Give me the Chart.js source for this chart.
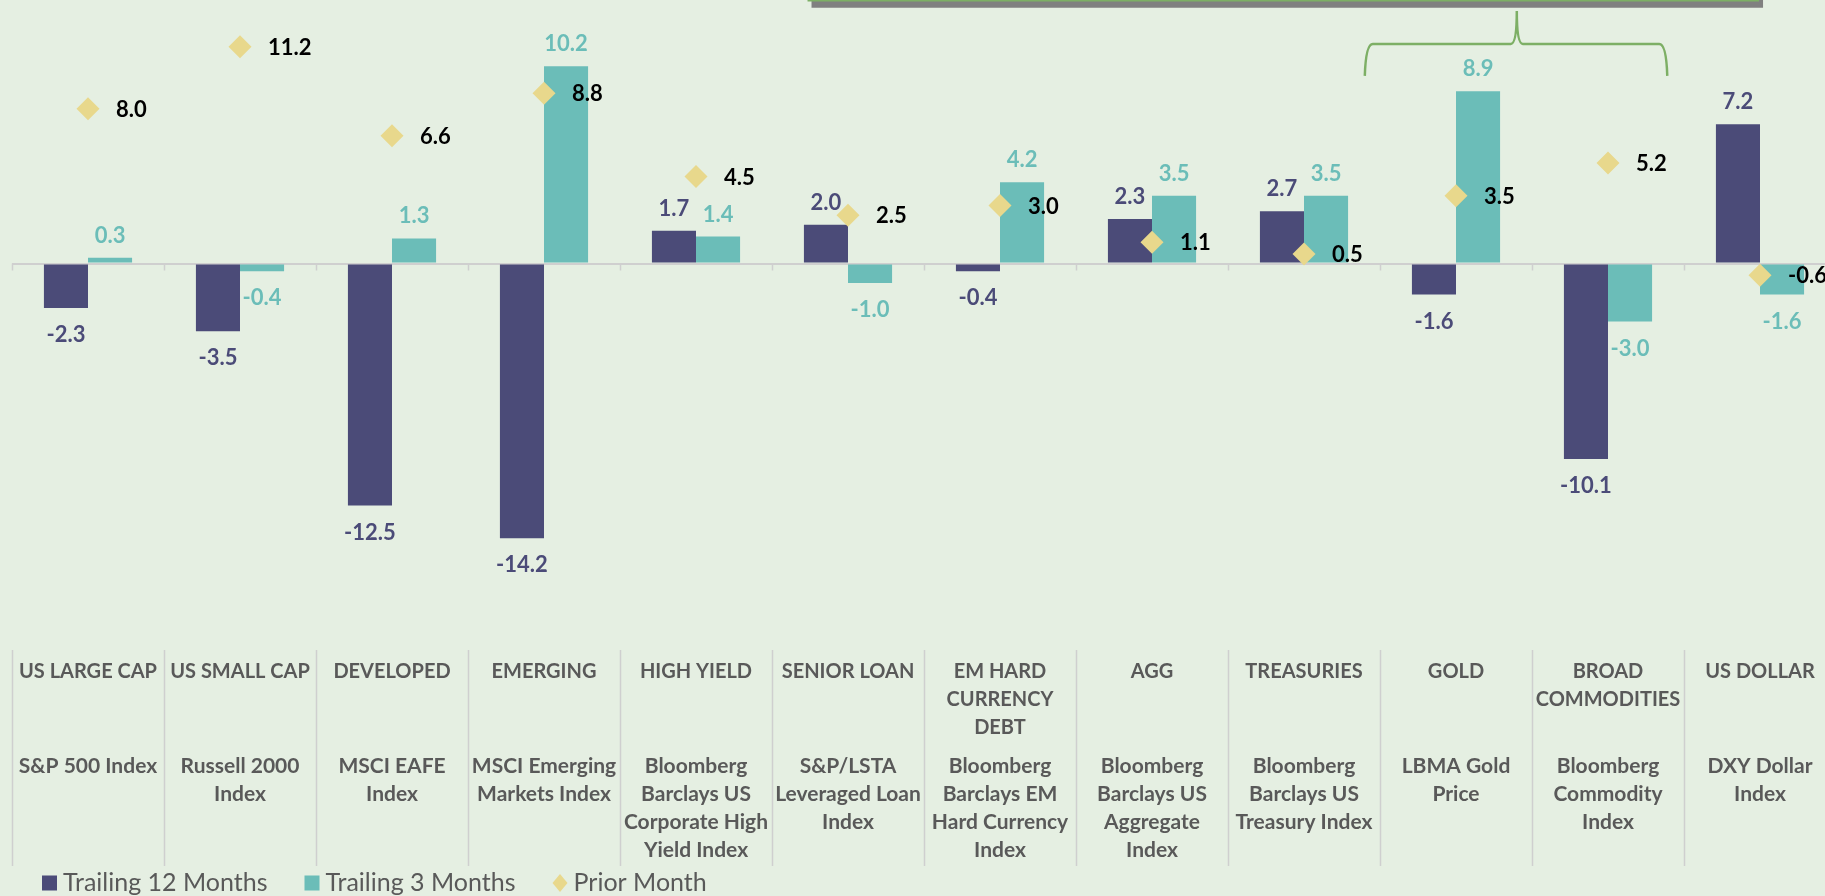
<!DOCTYPE html>
<html>
	<head>
		<meta charset="UTF-8" />
		<title>Asset Class Returns</title>
		<script src="https://cdn.jsdelivr.net/npm/chart.js@4.4.1/dist/chart.umd.min.js"></script>
		<style type="text/css">
			html, body {
				margin: 0;
				padding: 0;
				overflow: hidden;
				background: #E5EFE2;
			}
			.chartBox {
				width: 1840px;
				height: 896px;
			}
		</style>
	</head>
	<body>
		<div class="chartBox">
			<canvas id="myChart" width="1840" height="896"></canvas>
		</div>

		<script>
			// asset class (upper label row) and index name (lower label row)
			var groupLabels = [
				"US LARGE CAP",
				"US SMALL CAP",
				"DEVELOPED",
				"EMERGING",
				"HIGH YIELD",
				"SENIOR LOAN",
				["EM HARD", "CURRENCY", "DEBT"],
				"AGG",
				"TREASURIES",
				"GOLD",
				["BROAD", "COMMODITIES"],
				"US DOLLAR"
			];
			var indexLabels = [
				"S&P 500 Index",
				["Russell 2000", "Index"],
				["MSCI EAFE", "Index"],
				["MSCI Emerging", "Markets Index"],
				["Bloomberg", "Barclays US", "Corporate High", "Yield Index"],
				["S&P/LSTA", "Leveraged Loan", "Index"],
				["Bloomberg", "Barclays EM", "Hard Currency", "Index"],
				["Bloomberg", "Barclays US", "Aggregate", "Index"],
				["Bloomberg", "Barclays US", "Treasury Index"],
				["LBMA Gold", "Price"],
				["Bloomberg", "Commodity", "Index"],
				["DXY Dollar", "Index"]
			];

			var trailing12 = [-2.3, -3.5, -12.5, -14.2, 1.7, 2.0, -0.4, 2.3, 2.7, -1.6, -10.1, 7.2];
			var trailing3 = [0.3, -0.4, 1.3, 10.2, 1.4, -1.0, 4.2, 3.5, 3.5, 8.9, -3.0, -1.6];
			var priorMonth = [8.0, 11.2, 6.6, 8.8, 4.5, 2.5, 3.0, 1.1, 0.5, 3.5, 5.2, -0.6];
		</script>

		<script>
		const navy = '#4B4B78';
		const teal = '#6BBDB8';
		const gold = '#E8D88C';
		const gray = '#595959';
		const lineGray = '#CFCFCF';

		// separators between categories, small ticks on the zero line, header strip and brace
		const decorPlugin = {
			id: 'decor',
			beforeDatasetsDraw(chart) {
				const ctx = chart.ctx;
				const xs = chart.scales.x;
				const ys = chart.scales.y;
				const y0 = ys.getPixelForValue(0);
				ctx.save();
				ctx.strokeStyle = lineGray;
				ctx.lineWidth = 1.5;
				ctx.beginPath();
				for (let i = 0; i <= groupLabels.length; i++) {
					const x = Math.round(xs.getPixelForValue(i - 0.5)) + 0.5;
					ctx.moveTo(x, y0);
					ctx.lineTo(x, y0 + 7);
					ctx.moveTo(x, chart.chartArea.bottom);
					ctx.lineTo(x, chart.scales.x2.bottom);
				}
				ctx.stroke();
				ctx.restore();
			},
			afterDraw(chart) {
				const ctx = chart.ctx;
				const xs = chart.scales.x;
				const ys = chart.scales.y;
				ctx.save();
				// cut-off header box at the top edge
				const bl = xs.getPixelForValue(4.76);
				const br = xs.getPixelForValue(11.02);
				ctx.fillStyle = '#808080';
				ctx.fillRect(bl, 0, br - bl, ys.getPixelForValue(13.22));
				ctx.fillStyle = '#7DAF65';
				ctx.fillRect(bl - 4, 0, br - bl, 1.5);

				// curly brace over gold / commodities
				const xl = xs.getPixelForValue(8.40);
				const xr = xs.getPixelForValue(10.39);
				const xm = xs.getPixelForValue(9.40);
				const yb = ys.getPixelForValue(9.7);
				const ym = ys.getPixelForValue(11.35);
				const yt = ys.getPixelForValue(13.05);
				ctx.strokeStyle = '#7DAF65';
				ctx.lineWidth = 2.5;
				ctx.beginPath();
				ctx.moveTo(xl, yb);
				ctx.quadraticCurveTo(xl + 1, ym, xl + 8, ym);
				ctx.lineTo(xm - 6, ym);
				ctx.quadraticCurveTo(xm, ym, xm, yt);
				ctx.quadraticCurveTo(xm, ym, xm + 6, ym);
				ctx.lineTo(xr - 8, ym);
				ctx.quadraticCurveTo(xr - 1, ym, xr, yb);
				ctx.stroke();
				ctx.restore();
			}
		};

		// value labels next to every bar and diamond
		const valueLabels = {
			id: 'valueLabels',
			afterDatasetsDraw(chart) {
				const ctx = chart.ctx;
				ctx.save();
				ctx.font = 'bold 22px Lato';
				ctx.textBaseline = 'middle';
				chart.data.datasets.forEach((ds, di) => {
					const meta = chart.getDatasetMeta(di);
					meta.data.forEach((el, i) => {
						const v = ds.data[i];
						ctx.fillStyle = ds.labelColor;
						if (meta.type === 'bar') {
							ctx.textAlign = 'center';
							ctx.fillText(v.toFixed(1), el.x, v >= 0 ? el.y - 22 : el.y + 27);
						} else {
							ctx.textAlign = 'left';
							ctx.fillText(v.toFixed(1), el.x + 28, el.y + 1);
						}
					});
				});
				ctx.restore();
			}
		};

		// legend row under the labels
		const bottomLegend = {
			id: 'bottomLegend',
			afterDraw(chart) {
				const ctx = chart.ctx;
				const y = chart.scales.x2.bottom + 17;
				let x = 42;
				ctx.save();
				ctx.font = '25px Lato';
				ctx.textBaseline = 'middle';
				ctx.textAlign = 'left';
				chart.data.datasets.forEach(ds => {
					ctx.fillStyle = ds.type === 'line' ? ds.pointBackgroundColor : ds.backgroundColor;
					if (ds.type === 'line') {
						ctx.beginPath();
						ctx.moveTo(x, y);
						ctx.lineTo(x + 7.5, y - 9);
						ctx.lineTo(x + 15, y);
						ctx.lineTo(x + 7.5, y + 9);
						ctx.closePath();
						ctx.fill();
					} else {
						ctx.fillRect(x, y - 7.5, 15, 15);
					}
					ctx.fillStyle = gray;
					ctx.fillText(ds.label, x + 21, y);
					x += 21 + ctx.measureText(ds.label).width + 37;
				});
				ctx.restore();
			}
		};

		const ctx = document.getElementById('myChart').getContext('2d');

		const config = {
			type: 'bar',
			data: {
				labels: groupLabels,
				datasets: [{
					label: "Trailing 12 Months",
					backgroundColor: navy,
					labelColor: navy,
					data: trailing12,
				},
				{
					label: "Trailing 3 Months",
					backgroundColor: teal,
					labelColor: teal,
					data: trailing3,
				},
				{
					type: 'line',
					label: "Prior Month",
					showLine: false,
					pointStyle: 'rectRot',
					pointRadius: 11.5,
					pointHoverRadius: 11.5,
					pointBackgroundColor: gold,
					pointBorderWidth: 0,
					borderColor: gold,
					labelColor: '#000000',
					order: -1,
					data: priorMonth,
				}]
			},
			options: {
				responsive: false,
				animation: false,
				events: [],
				categoryPercentage: 0.58,
				barPercentage: 1.0,
				layout: {
					autoPadding: false,
					padding: { left: 12, right: 4, top: 0, bottom: 30 }
				},
				plugins: {
					legend: { display: false },
					tooltip: { enabled: false }
				},
				scales: {
					x: {
						type: 'category',
						offset: true,
						weight: 0,
						grid: { display: false, drawTicks: false },
						border: { display: false },
						ticks: {
							autoSkip: false,
							maxRotation: 0,
							minRotation: 0,
							padding: 8,
							color: gray,
							font: { family: 'Lato', size: 20, weight: 'bold', lineHeight: 1.4 }
						}
					},
					x2: {
						type: 'category',
						position: 'bottom',
						labels: indexLabels,
						offset: true,
						weight: 1,
						grid: { display: false, drawTicks: false },
						border: { display: false },
						ticks: {
							autoSkip: false,
							maxRotation: 0,
							minRotation: 0,
							padding: 2,
							color: gray,
							font: { family: 'Lato', size: 21, weight: 'bold', lineHeight: '28px' }
						}
					},
					y: {
						min: -19.97,
						max: 13.62,
						border: { display: false },
						grid: {
							drawTicks: false,
							lineWidth: 2,
							color: (c) => c.tick && c.tick.value === 0 ? lineGray : 'rgba(0,0,0,0)'
						},
						ticks: { display: false, stepSize: 5 }
					}
				}
			},
			plugins: [decorPlugin, valueLabels, bottomLegend]
		};

		const myChart = new Chart(ctx, config);
		</script>
	</body>
</html>
